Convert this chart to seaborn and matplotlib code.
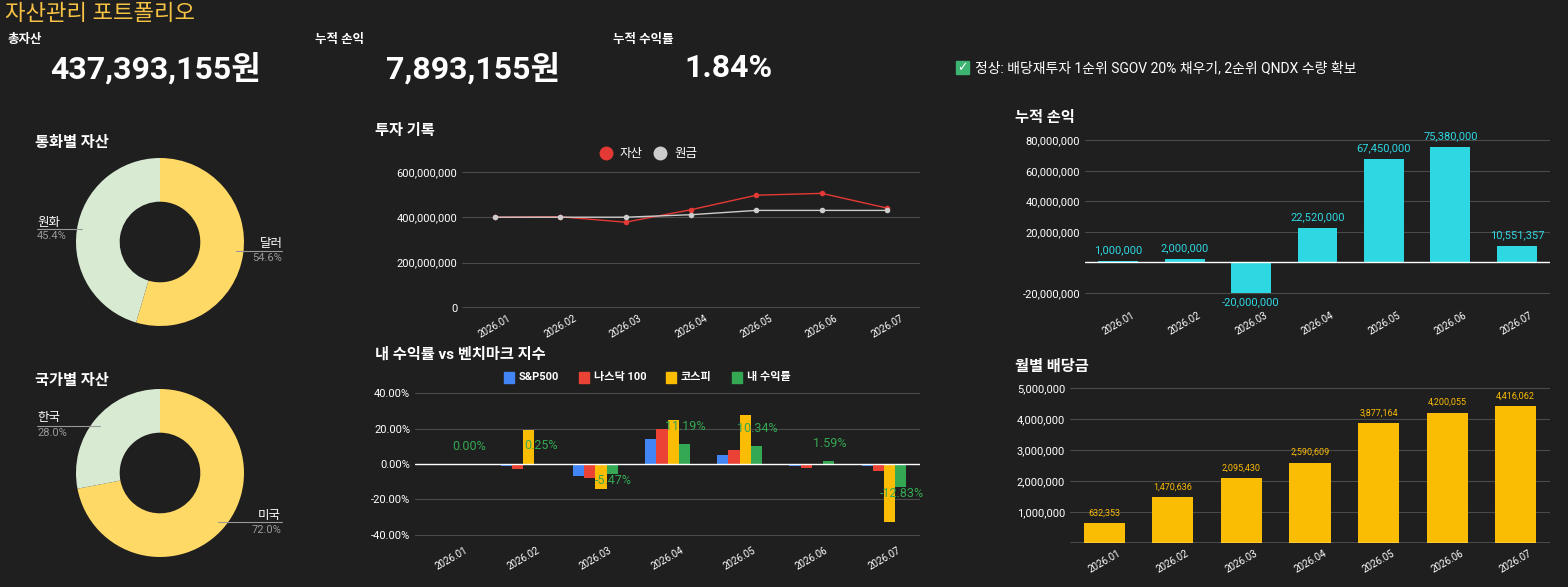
import matplotlib
matplotlib.use("Agg")
import matplotlib.pyplot as plt
import numpy as np
import pandas as pd
import seaborn as sns

sns.set_style("dark")
plt.rcParams['font.family'] = ['Roboto', 'Noto Sans CJK KR', 'DejaVu Sans']

BG = "#1f1f1f"
W, H = 1568, 587

months = ["2026.01", "2026.02", "2026.03", "2026.04", "2026.05", "2026.06", "2026.07"]
asset = [400e6, 402e6, 378e6, 433e6, 497e6, 505e6, 440e6]
principal = [400e6, 400e6, 400e6, 411e6, 430e6, 430e6, 430e6]
sp500 = [0, -1, -7, 14, 5, -1, -1]
nasdaq = [0, -3, -8, 20, 8, -2, -4]
kospi = [0, 19, -14, 25, 28, 0, -33]
mine = [0.0, 0.25, -5.47, 11.19, 10.34, 1.59, -12.83]
pnl = [1000000, 2000000, -20000000, 22520000, 67450000, 75380000, 10551357]
dividend = [632353, 1470636, 2095430, 2590609, 3877164, 4200055, 4416062]
currency_labels = ["달러", "원화"]
currency_vals = [54.6, 45.4]
country_labels = ["미국", "한국"]
country_vals = [72.0, 28.0]

fig = plt.figure(figsize=(W / 100, H / 100), dpi=100)
fig.patch.set_facecolor(BG)


def ax_px(x0, y0, x1, y1):
    return fig.add_axes([x0 / W, 1 - y1 / H, (x1 - x0) / W, (y1 - y0) / H])


def txt(x, y, s, **kw):
    fig.text(x / W, 1 - y / H, s, **kw)


def style(ax):
    ax.set_facecolor(BG)
    for s in ax.spines.values():
        s.set_visible(False)
    ax.grid(True, axis="y", color="#4a4a4a", lw=0.8)
    ax.set_axisbelow(True)
    ax.tick_params(colors="white", labelsize=8, length=0)
    ax.set_xlabel("")
    ax.set_ylabel("")
    for lab in ax.get_xticklabels():
        lab.set_rotation(30)
        lab.set_fontsize(7)
        lab.set_ha("center")
    for p in ax.patches:
        p.set_linewidth(0)


# header
txt(5, 14, "자산관리 포트폴리오", color="#f6c244", fontsize=16, va="center")
for x, lab in [(8, "총자산"), (315, "누적 손익"), (613, "누적 수익률")]:
    txt(x, 40, lab, color="white", fontsize=9, fontweight="bold", va="center")
for x, v in [(155, "437,393,155원"), (473, "7,893,155원"), (728, "1.84%")]:
    txt(x, 68, v, color="white", fontsize=23, fontweight="bold", ha="center", va="center")
fig.patches.append(matplotlib.patches.Rectangle((956 / W, 1 - 74 / H), 13 / W, 13 / H,
                                                color="#3cb371", transform=fig.transFigure))
txt(962.5, 68, "✓", color="white", fontsize=9, fontweight="bold", ha="center", va="center",
    family=['DejaVu Sans'])
txt(975, 68, "정상: 배당재투자 1순위 SGOV 20% 채우기, 2순위 QNDX 수량 확보",
    color="white", fontsize=10, va="center")


# donuts
def donut(cx, cy, title, labels, vals, title_y):
    r = 84
    ax = ax_px(cx - r, cy - r, cx + r, cy + r)
    ax.pie(vals, colors=["#ffd966", "#d9ead3"], startangle=90, counterclock=False,
           radius=1, wedgeprops=dict(width=0.52, edgecolor="none"))
    ax.set_xlim(-1, 1)
    ax.set_ylim(-1, 1)
    ax.set_aspect("equal")
    txt(35, title_y, title, color="white", fontsize=11, fontweight="bold", va="center")
    return ax


donut(160, 242, "통화별 자산", currency_labels, currency_vals, 143)
txt(260, 243, "달러", color="white", fontsize=9, va="center")
txt(252, 258, "54.6%", color="#999999", fontsize=8, va="center")
txt(37, 222, "원화", color="white", fontsize=9, va="center")
txt(37, 236, "45.4%", color="#999999", fontsize=8, va="center")
fig.add_artist(plt.Line2D([37 / W, 82 / W], [1 - 229 / H, 1 - 229 / H], color="#999999", lw=0.8))
fig.add_artist(plt.Line2D([236 / W, 282 / W], [1 - 251 / H, 1 - 251 / H], color="#999999", lw=0.8))

donut(160, 473, "국가별 자산", country_labels, country_vals, 381)
txt(258, 515, "미국", color="white", fontsize=9, va="center")
txt(252, 530, "72.0%", color="#999999", fontsize=8, va="center")
txt(37, 418, "한국", color="white", fontsize=9, va="center")
txt(37, 433, "28.0%", color="#999999", fontsize=8, va="center")
fig.add_artist(plt.Line2D([37 / W, 100 / W], [1 - 426 / H, 1 - 426 / H], color="#999999", lw=0.8))
fig.add_artist(plt.Line2D([218 / W, 282 / W], [1 - 522 / H, 1 - 522 / H], color="#999999", lw=0.8))

# 투자 기록
ax = ax_px(462, 165, 920, 308)
df = pd.DataFrame({"month": months * 2, "value": asset + principal,
                   "kind": ["자산"] * 7 + ["원금"] * 7})
sns.lineplot(data=df, x="month", y="value", hue="kind", palette={"자산": "#e53935", "원금": "#cccccc"},
             marker="o", markersize=4, markeredgecolor="none", lw=1, ax=ax, legend=False, sort=False)
ax.set_ylim(0, 630e6)
ax.set_yticks([0, 200e6, 400e6, 600e6])
ax.yaxis.set_major_formatter(matplotlib.ticker.FuncFormatter(lambda v, p: f"{v:,.0f}"))
ax.set_xlim(-0.5, 6.5)
style(ax)
ax.axhline(0, color="white", lw=1)
txt(375, 131, "투자 기록", color="white", fontsize=11, fontweight="bold", va="center")
for x, c, lab in [(606, "#e53935", "자산"), (660, "#cccccc", "원금")]:
    fig.add_artist(plt.Line2D([x / W], [1 - 153 / H], marker="o", color=c, markersize=9))
    txt(x + 14, 153, lab, color="white", fontsize=9, va="center")

# 벤치마크
ax = ax_px(415, 388, 920, 540)
names = ["S&P500", "나스닥 100", "코스피", "내 수익률"]
cols = ["#4285f4", "#ea4335", "#fbbc04", "#34a853"]
bdf = pd.DataFrame({"month": months * 4, "ret": sp500 + nasdaq + kospi + mine,
                    "idx": sum([[n] * 7 for n in names], [])})
sns.barplot(data=bdf, x="month", y="ret", hue="idx", palette=dict(zip(names, cols)),
            width=0.62, ax=ax, legend=False, saturation=1)
ax.set_ylim(-43, 43)
ax.set_yticks([-40, -20, 0, 20, 40])
ax.yaxis.set_major_formatter(matplotlib.ticker.FuncFormatter(lambda v, p: f"{v:.2f}%"))
style(ax)
ax.axhline(0, color="white", lw=1)
for i, v in enumerate(mine):
    ax.text(i + 0.25, v + (10 if v >= 0 else -4), f"{v:.2f}%", color="#34a853",
            fontsize=9, ha="center", va="center")
txt(375, 355, "내 수익률 vs 벤치마크 지수", color="white", fontsize=11, fontweight="bold", va="center")
for x, c, lab in zip([504, 579, 666, 732], cols, names):
    fig.patches.append(matplotlib.patches.Rectangle((x / W, 1 - 383 / H), 10 / W, 11 / H,
                                                    color=c, transform=fig.transFigure))
    txt(x + 15, 377, lab, color="white", fontsize=8, fontweight="bold", va="center")

# 누적 손익
ax = ax_px(1085, 128, 1550, 305)
sns.barplot(x=months, y=pnl, color="#2ed8e3", saturation=1, width=0.6, ax=ax)
ax.set_ylim(-28e6, 88e6)
ax.set_yticks([-20e6, 20e6, 40e6, 60e6, 80e6])
ax.yaxis.set_major_formatter(matplotlib.ticker.FuncFormatter(lambda v, p: f"{v:,.0f}"))
style(ax)
ax.axhline(0, color="white", lw=1)
for i, v in enumerate(pnl):
    ax.text(i, max(v, 0) + 7e6 if v >= 0 else v - 6e6, f"{v:,.0f}", color="#2ed8e3",
            fontsize=8, ha="center", va="center")
txt(1015, 118, "누적 손익", color="white", fontsize=11, fontweight="bold", va="center")

# 월별 배당금
ax = ax_px(1070, 380, 1550, 543)
sns.barplot(x=months, y=dividend, color="#fbbc04", saturation=1, width=0.6, ax=ax)
ax.set_ylim(0, 5.25e6)
ax.set_yticks([1e6, 2e6, 3e6, 4e6, 5e6])
ax.yaxis.set_major_formatter(matplotlib.ticker.FuncFormatter(lambda v, p: f"{v:,.0f}"))
style(ax)
ax.axhline(0, color="white", lw=1)
for i, v in enumerate(dividend):
    ax.text(i, v + 0.32e6, f"{v:,.0f}", color="#fbbc04", fontsize=6.5, ha="center", va="center")
txt(1015, 367, "월별 배당금", color="white", fontsize=11, fontweight="bold", va="center")

fig.savefig("out.png", dpi=100, facecolor=BG)
